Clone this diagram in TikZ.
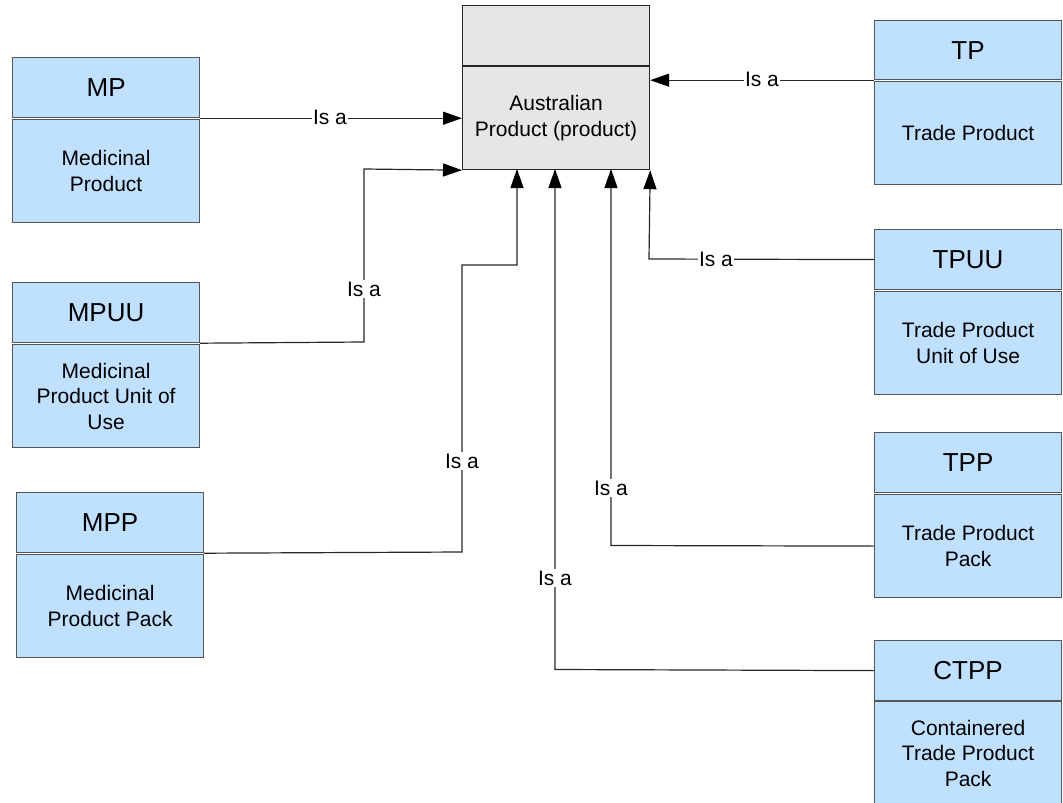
\documentclass[tikz,border=0pt]{standalone}
\usepackage{fontspec}
\setmainfont{Liberation Sans}
\usetikzlibrary{arrows.meta}
\definecolor{lblue}{RGB}{192,224,255}
\definecolor{lgray}{RGB}{230,230,230}
\definecolor{bline}{RGB}{85,85,85}
\definecolor{cline}{RGB}{40,40,40}
\tikzset{
  box/.style={draw=bline, line width=1.2pt, fill=lblue, minimum width=187pt, anchor=north west, inner sep=0pt, align=center},
  hdr/.style={box, minimum height=60pt, font=\fontsize{26}{30}\selectfont},
  bdy/.style={box, minimum height=103pt, font=\fontsize{21}{25.5}\selectfont},
  cbox/.style={box, draw=black!85, fill=lgray},
  conn/.style={draw=cline, line width=1.2pt},
  arr/.style={conn, -{Triangle[length=19pt,width=13pt,color=black]}},
  lbl/.style={fill=white, inner sep=1.5pt, font=\fontsize{21}{25}\selectfont}
}
\begin{document}
\begin{tikzpicture}[x=1pt,y=-1pt]
\useasboundingbox[fill=white] (0,0) rectangle (1063,803);
% central
\node[cbox, minimum height=60pt] (ct) at (462,5) {};
\node[cbox, minimum height=103pt, font=\fontsize{21}{25.5}\selectfont] (cb) at (462,66) {Australian\\Product (product)};
% left
\node[hdr] (mph) at (12,57) {MP};
\node[bdy] (mpb) at (12,119) {Medicinal\\Product};
\node[hdr] (mpuuh) at (12,282) {MPUU};
\node[bdy] (mpuub) at (12,344) {Medicinal\\Product Unit of\\Use};
\node[hdr] (mpph) at (16,492) {MPP};
\node[bdy] (mppb) at (16,554) {Medicinal\\Product Pack};
% right
\node[hdr, minimum height=59pt] (tph) at (874,20) {TP};
\node[bdy] (tpb) at (874,81) {Trade Product};
\node[hdr] (tpuuh) at (874,229) {TPUU};
\node[bdy] (tpuub) at (874,291) {Trade Product\\Unit of Use};
\node[hdr] (tpph) at (874,432) {TPP};
\node[bdy] (tppb) at (874,494) {Trade Product\\Pack};
\node[hdr] (ctpph) at (874,640) {CTPP};
\node[bdy] (ctppb) at (874,701) {Containered\\Trade Product\\Pack};
% connectors
\coordinate (a1) at (cb.west |- mph.south east);
\draw[arr] (mph.south east) -- (a1);
\node[lbl] (l1) at (330,117) {Is a};

\coordinate (b1) at (364,342);
\coordinate (b2) at (364,169);
\draw[arr] (mpuuh.south east) -- (b1) -- (b2) -- (cb.south west);
\node[lbl] (l2) at (364,289) {Is a};

\coordinate (c1) at (462,552);
\coordinate (c2) at (462,265);
\coordinate (c3) at (517,265);
\coordinate (c4) at (517,169);
\draw[arr] (mpph.south east) -- (c1) -- (c2) -- (c3) -- (c4);
\node[lbl] (l3) at (462,461) {Is a};

\coordinate (d1) at (555,669.5);
\coordinate (d2) at (555,169);
\draw[arr] (ctpph.west) -- (d1) -- (d2);
\node[lbl] (l4) at (555,578) {Is a};

\coordinate (e1) at (611,545.5);
\coordinate (e2) at (611,169);
\draw[arr] (tppb.west) -- (e1) -- (e2);
\node[lbl] (l5) at (611,488) {Is a};

\coordinate (f1) at (649,259);
\draw[arr] (tpuuh.west) -- (f1) -- (cb.south east);
\node[lbl] (l6) at (716,259) {Is a};

\coordinate (g1) at (cb.east |- tph.south west);
\draw[arr] (tph.south west) -- (g1);
\node[lbl] (l7) at (762,79) {Is a};
\end{tikzpicture}
\end{document}
